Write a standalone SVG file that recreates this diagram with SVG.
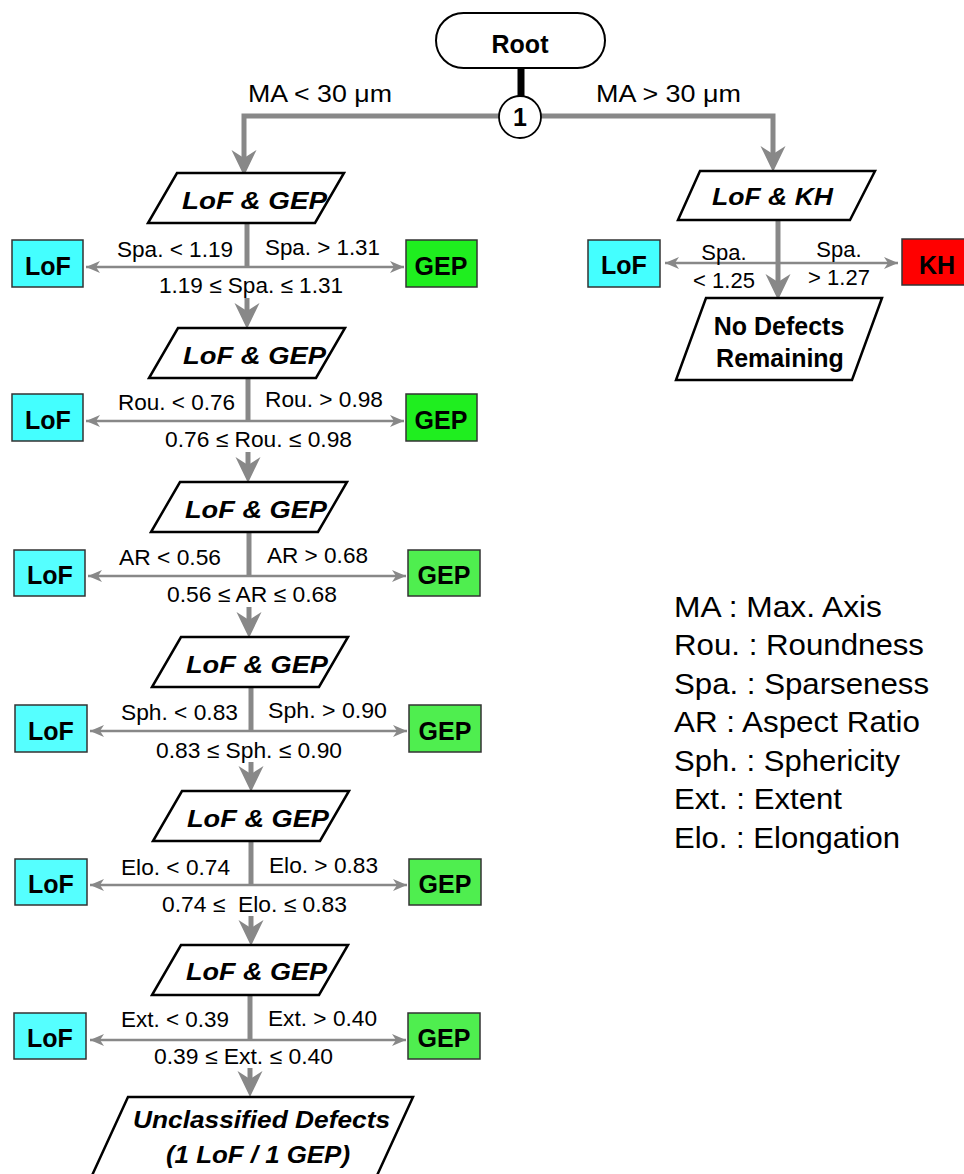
<svg xmlns="http://www.w3.org/2000/svg" xmlns:xlink="http://www.w3.org/1999/xlink" width="964" height="1174" viewBox="0 0 964 1174">
<style>
.bg{fill:#fff}
.pl{fill:#fff;stroke:#000;stroke-width:2.5;stroke-linejoin:miter}
.pt{font-family:"Liberation Sans",Arial,sans-serif;font-weight:bold;font-style:italic;font-size:24px;fill:#000}
.bt{font-family:"Liberation Sans",Arial,sans-serif;font-weight:bold;font-size:25px;fill:#000;text-anchor:middle}
.lb{font-family:"Liberation Sans",Arial,sans-serif;font-size:22px;fill:#000}
.ma{font-family:"Liberation Sans",Arial,sans-serif;font-size:24px;fill:#000}
.lg{font-family:"Liberation Sans",Arial,sans-serif;font-size:29px;fill:#000}
.lof{fill:#44FFFF;stroke:#333;stroke-width:1.5}
.lof2{fill:#55FFFF;stroke:#333;stroke-width:1.5}
.gep{fill:#1FEE1F;stroke:#333;stroke-width:1.5}
.gep2{fill:#4FEE4F;stroke:#333;stroke-width:1.5}
.kh{fill:#FF0000;stroke:#333;stroke-width:1.5}
.thick{stroke:#888;stroke-width:5;fill:none}
.thin{stroke:#888;stroke-width:2.5;fill:none;marker-end:url(#m)}
.ah{fill:#888}
</style>
<defs>
<marker id="m" markerUnits="userSpaceOnUse" markerWidth="16" markerHeight="14" refX="15" refY="7" orient="auto">
<path d="M1,1 L15,7 L1,13 L5,7 Z" fill="#888"/>
</marker>
<path id="ah" d="M-12.5,-26 L0,-18 L12.5,-26 L0,0 Z"/>
</defs>
<rect class="bg" x="0" y="0" width="964" height="1174"/>

<g id="connectors">
<line x1="521" y1="68" x2="521" y2="97" stroke="#000" stroke-width="7"/>
<polyline class="thick" points="244,168 244,116 773,116 773,166"/>
<use href="#ah" class="ah" x="244" y="176"/>
<use href="#ah" class="ah" x="773" y="172"/>
<line class="thick" x1="778" y1="220" x2="778" y2="285"/>
<use href="#ah" class="ah" x="778" y="300"/>
<line class="thin" x1="778" y1="263" x2="665" y2="263"/>
<line class="thin" x1="778" y1="263" x2="898" y2="263"/>
<line class="thick" x1="247" y1="223" x2="247" y2="268"/>
<line class="thin" x1="247" y1="267" x2="86" y2="267"/>
<line class="thin" x1="247" y1="267" x2="404" y2="267"/>
<line class="thick" x1="247" y1="298" x2="247" y2="312"/>
<use href="#ah" class="ah" x="247" y="329"/>
<line class="thick" x1="248" y1="378" x2="248" y2="422"/>
<line class="thin" x1="248" y1="421" x2="86" y2="421"/>
<line class="thin" x1="248" y1="421" x2="404" y2="421"/>
<line class="thick" x1="248" y1="452" x2="248" y2="466"/>
<use href="#ah" class="ah" x="248" y="483"/>
<line class="thick" x1="249" y1="532" x2="249" y2="577"/>
<line class="thin" x1="249" y1="576" x2="88" y2="576"/>
<line class="thin" x1="249" y1="576" x2="406" y2="576"/>
<line class="thick" x1="249" y1="607" x2="249" y2="621"/>
<use href="#ah" class="ah" x="249" y="638"/>
<line class="thick" x1="251" y1="687" x2="251" y2="732"/>
<line class="thin" x1="251" y1="731" x2="90" y2="731"/>
<line class="thin" x1="251" y1="731" x2="407" y2="731"/>
<line class="thick" x1="251" y1="762" x2="251" y2="775"/>
<use href="#ah" class="ah" x="251" y="792"/>
<line class="thick" x1="251" y1="841" x2="251" y2="886"/>
<line class="thin" x1="251" y1="885" x2="90" y2="885"/>
<line class="thin" x1="251" y1="885" x2="407" y2="885"/>
<line class="thick" x1="251" y1="916" x2="251" y2="929"/>
<use href="#ah" class="ah" x="251" y="946"/>
<line class="thick" x1="250" y1="995" x2="250" y2="1041"/>
<line class="thin" x1="250" y1="1040" x2="90" y2="1040"/>
<line class="thin" x1="250" y1="1040" x2="406" y2="1040"/>
<line class="thick" x1="250" y1="1068" x2="250" y2="1080"/>
<use href="#ah" class="ah" x="250" y="1097"/>
</g>

<g id="edge-labels">
<text class="ma" x="248" y="102" textLength="144" lengthAdjust="spacingAndGlyphs">MA &lt; 30 μm</text>
<text class="ma" x="596" y="102" textLength="145" lengthAdjust="spacingAndGlyphs">MA &gt; 30 μm</text>
<text class="lb" x="724" y="260" text-anchor="middle">Spa.</text>
<text class="lb" x="724" y="288" text-anchor="middle">&lt; 1.25</text>
<text class="lb" x="839" y="257" text-anchor="middle">Spa.</text>
<text class="lb" x="839" y="285" text-anchor="middle">&gt; 1.27</text>

<text class="lb" x="117" y="257" textLength="116" lengthAdjust="spacingAndGlyphs">Spa. &lt; 1.19</text>
<text class="lb" x="265" y="255" textLength="115" lengthAdjust="spacingAndGlyphs">Spa. &gt; 1.31</text>
<text class="lb" x="159" y="293" textLength="184" lengthAdjust="spacingAndGlyphs">1.19 ≤ Spa. ≤ 1.31</text>

<text class="lb" x="118" y="410" textLength="117" lengthAdjust="spacingAndGlyphs">Rou. &lt; 0.76</text>
<text class="lb" x="265" y="407" textLength="118" lengthAdjust="spacingAndGlyphs">Rou. &gt; 0.98</text>
<text class="lb" x="165" y="447" textLength="187" lengthAdjust="spacingAndGlyphs">0.76 ≤ Rou. ≤ 0.98</text>

<text class="lb" x="119" y="565" textLength="102" lengthAdjust="spacingAndGlyphs">AR &lt; 0.56</text>
<text class="lb" x="267" y="563" textLength="101" lengthAdjust="spacingAndGlyphs">AR &gt; 0.68</text>
<text class="lb" x="167" y="602" textLength="170" lengthAdjust="spacingAndGlyphs">0.56 ≤ AR ≤ 0.68</text>

<text class="lb" x="121" y="720" textLength="117" lengthAdjust="spacingAndGlyphs">Sph. &lt; 0.83</text>
<text class="lb" x="268" y="718" textLength="119" lengthAdjust="spacingAndGlyphs">Sph. &gt; 0.90</text>
<text class="lb" x="156" y="758" textLength="186" lengthAdjust="spacingAndGlyphs">0.83 ≤ Sph. ≤ 0.90</text>

<text class="lb" x="121" y="875" textLength="109" lengthAdjust="spacingAndGlyphs">Elo. &lt; 0.74</text>
<text class="lb" x="269" y="873" textLength="109" lengthAdjust="spacingAndGlyphs">Elo. &gt; 0.83</text>
<text class="lb" x="162" y="912" textLength="185" lengthAdjust="spacingAndGlyphs" xml:space="preserve">0.74 ≤  Elo. ≤ 0.83</text>

<text class="lb" x="121" y="1027" textLength="108" lengthAdjust="spacingAndGlyphs">Ext. &lt; 0.39</text>
<text class="lb" x="268" y="1026" textLength="109" lengthAdjust="spacingAndGlyphs">Ext. &gt; 0.40</text>
<text class="lb" x="154" y="1064" textLength="179" lengthAdjust="spacingAndGlyphs">0.39 ≤ Ext. ≤ 0.40</text>
</g>

<g id="root">
<rect x="436" y="13" width="169" height="55" rx="27.5" fill="#fff" stroke="#000" stroke-width="2"/>
<text class="bt" x="520" y="53">Root</text>
</g>

<g id="decision-1">
<circle cx="520" cy="117" r="21" fill="#fff" stroke="#000" stroke-width="1.8"/>
<text class="bt" x="520" y="126" style="font-size:25px">1</text>
</g>

<g id="node-lofkh">
<polygon class="pl" points="700,171 875,171 850,220 678,220"/>
<text class="pt" x="712" y="205" textLength="121" lengthAdjust="spacingAndGlyphs">LoF &amp; KH</text>
</g>
<g id="leaf-lof-r"><rect class="lof" x="588" y="240" width="72" height="47"/><text class="bt" x="624" y="274">LoF</text></g>
<g id="leaf-kh"><rect class="kh" x="902" y="239" width="66" height="46"/><text class="bt" x="937" y="274">KH</text></g>
<g id="node-nodefects">
<polygon class="pl" points="706,298 882,298 852,380 676,380"/>
<text class="bt" x="779" y="335">No Defects</text>
<text class="bt" x="780" y="367">Remaining</text>
</g>

<g id="stage-1">
<polygon class="pl" points="177,173 344,173 315,223 148,223"/>
<text class="pt" x="182" y="209" textLength="145" lengthAdjust="spacingAndGlyphs">LoF &amp; GEP</text>
</g>
<g id="leaf-lof-1"><rect class="lof" x="12" y="240" width="71" height="47"/><text class="bt" x="48" y="275">LoF</text></g>
<g id="leaf-gep-1"><rect class="gep" x="406" y="240" width="71" height="47"/><text class="bt" x="441" y="275">GEP</text></g>

<g id="stage-2">
<polygon class="pl" points="178,328 345,328 316,378 149,378"/>
<text class="pt" x="183" y="364" textLength="143" lengthAdjust="spacingAndGlyphs">LoF &amp; GEP</text>
</g>
<g id="leaf-lof-2"><rect class="lof" x="12" y="394" width="71" height="47"/><text class="bt" x="48" y="429">LoF</text></g>
<g id="leaf-gep-2"><rect class="gep" x="406" y="394" width="71" height="47"/><text class="bt" x="441" y="429">GEP</text></g>

<g id="stage-3">
<polygon class="pl" points="180,482 347,482 318,532 151,532"/>
<text class="pt" x="185" y="518" textLength="142" lengthAdjust="spacingAndGlyphs">LoF &amp; GEP</text>
</g>
<g id="leaf-lof-3"><rect class="lof2" x="14" y="550" width="71" height="46"/><text class="bt" x="50" y="584">LoF</text></g>
<g id="leaf-gep-3"><rect class="gep2" x="408" y="550" width="72" height="46"/><text class="bt" x="444" y="584">GEP</text></g>

<g id="stage-4">
<polygon class="pl" points="181,637 348,637 319,687 152,687"/>
<text class="pt" x="186" y="673" textLength="142" lengthAdjust="spacingAndGlyphs">LoF &amp; GEP</text>
</g>
<g id="leaf-lof-4"><rect class="lof2" x="15" y="705" width="72" height="47"/><text class="bt" x="51" y="740">LoF</text></g>
<g id="leaf-gep-4"><rect class="gep2" x="409" y="705" width="72" height="47"/><text class="bt" x="445" y="740">GEP</text></g>

<g id="stage-5">
<polygon class="pl" points="182,791 349,791 320,841 153,841"/>
<text class="pt" x="187" y="827" textLength="142" lengthAdjust="spacingAndGlyphs">LoF &amp; GEP</text>
</g>
<g id="leaf-lof-5"><rect class="lof2" x="15" y="859" width="72" height="46"/><text class="bt" x="51" y="893">LoF</text></g>
<g id="leaf-gep-5"><rect class="gep2" x="409" y="859" width="72" height="46"/><text class="bt" x="445" y="893">GEP</text></g>

<g id="stage-6">
<polygon class="pl" points="181,945 348,945 319,995 152,995"/>
<text class="pt" x="186" y="980" textLength="141" lengthAdjust="spacingAndGlyphs">LoF &amp; GEP</text>
</g>
<g id="leaf-lof-6"><rect class="lof2" x="14" y="1013" width="72" height="46"/><text class="bt" x="50" y="1047">LoF</text></g>
<g id="leaf-gep-6"><rect class="gep2" x="408" y="1013" width="72" height="46"/><text class="bt" x="444" y="1047">GEP</text></g>

<g id="node-unclassified">
<polygon class="pl" points="128,1097 413,1097 374,1182 89,1182"/>
<text class="pt" x="133" y="1128" textLength="257" lengthAdjust="spacingAndGlyphs">Unclassified Defects</text>
<text class="pt" x="166" y="1163" textLength="184" lengthAdjust="spacingAndGlyphs">(1 LoF / 1 GEP)</text>
</g>

<g id="legend">
<text class="lg" x="674" y="617" textLength="208" lengthAdjust="spacingAndGlyphs">MA : Max. Axis</text>
<text class="lg" x="674" y="655" textLength="250" lengthAdjust="spacingAndGlyphs">Rou. : Roundness</text>
<text class="lg" x="674" y="694" textLength="255" lengthAdjust="spacingAndGlyphs">Spa. : Sparseness</text>
<text class="lg" x="674" y="732" textLength="246" lengthAdjust="spacingAndGlyphs">AR : Aspect Ratio</text>
<text class="lg" x="674" y="771" textLength="226" lengthAdjust="spacingAndGlyphs">Sph. : Sphericity</text>
<text class="lg" x="674" y="809" textLength="168" lengthAdjust="spacingAndGlyphs">Ext. : Extent</text>
<text class="lg" x="674" y="848" textLength="226" lengthAdjust="spacingAndGlyphs">Elo. : Elongation</text>
</g>
</svg>
